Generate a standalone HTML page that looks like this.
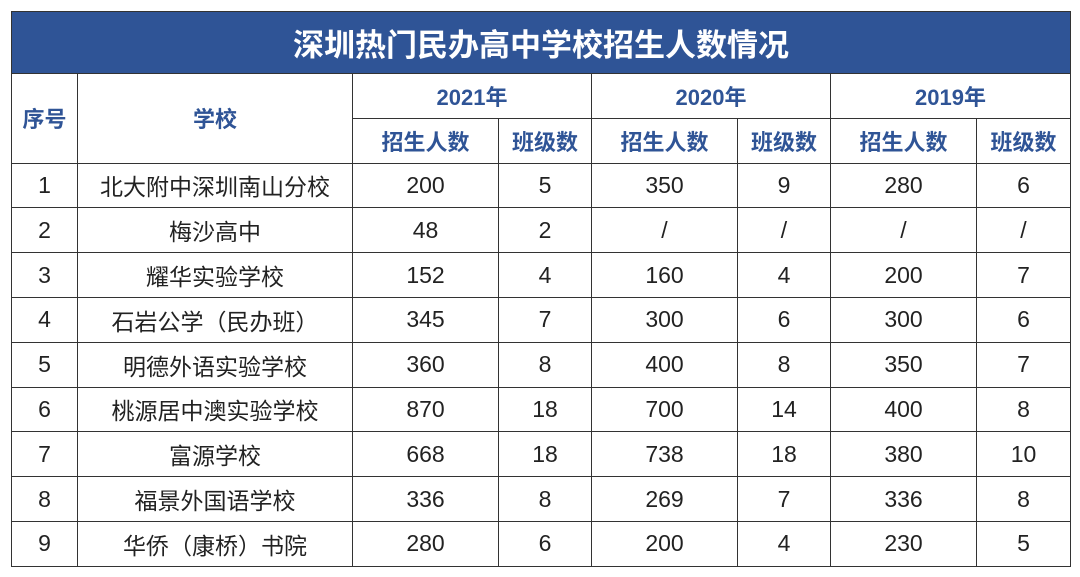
<!DOCTYPE html>
<html><head><meta charset="utf-8"><style>
body{margin:0;background:#fff;width:1080px;height:577px;overflow:hidden}
table{position:absolute;left:11px;top:11px;border-collapse:collapse;table-layout:fixed;font-family:"Liberation Sans","Noto Sans CJK SC",sans-serif}
td{border:1.5px solid #333;text-align:center;padding:0;font-size:23px;color:#222;height:43.8px}
.t{background:#2F5496;color:#fff;font-weight:bold;font-size:31px;height:61px}
.h{color:#2F5496;font-weight:bold;font-size:22px}
</style></head><body>
<table>
<colgroup><col style="width:66px"><col style="width:275px"><col style="width:146px"><col style="width:93px"><col style="width:146px"><col style="width:93px"><col style="width:146px"><col style="width:94px"></colgroup>
<tr><td class="t" colspan="8">深圳热门民办高中学校招生人数情况</td></tr>
<tr><td class="h" rowspan="2">序号</td><td class="h" rowspan="2">学校</td><td class="h" colspan="2">2021年</td><td class="h" colspan="2">2020年</td><td class="h" colspan="2">2019年</td></tr>
<tr><td class="h">招生人数</td><td class="h">班级数</td><td class="h">招生人数</td><td class="h">班级数</td><td class="h">招生人数</td><td class="h">班级数</td></tr>
<tr><td>1</td><td>北大附中深圳南山分校</td><td>200</td><td>5</td><td>350</td><td>9</td><td>280</td><td>6</td></tr>
<tr><td>2</td><td>梅沙高中</td><td>48</td><td>2</td><td>/</td><td>/</td><td>/</td><td>/</td></tr>
<tr><td>3</td><td>耀华实验学校</td><td>152</td><td>4</td><td>160</td><td>4</td><td>200</td><td>7</td></tr>
<tr><td>4</td><td>石岩公学（民办班）</td><td>345</td><td>7</td><td>300</td><td>6</td><td>300</td><td>6</td></tr>
<tr><td>5</td><td>明德外语实验学校</td><td>360</td><td>8</td><td>400</td><td>8</td><td>350</td><td>7</td></tr>
<tr><td>6</td><td>桃源居中澳实验学校</td><td>870</td><td>18</td><td>700</td><td>14</td><td>400</td><td>8</td></tr>
<tr><td>7</td><td>富源学校</td><td>668</td><td>18</td><td>738</td><td>18</td><td>380</td><td>10</td></tr>
<tr><td>8</td><td>福景外国语学校</td><td>336</td><td>8</td><td>269</td><td>7</td><td>336</td><td>8</td></tr>
<tr><td>9</td><td>华侨（康桥）书院</td><td>280</td><td>6</td><td>200</td><td>4</td><td>230</td><td>5</td></tr>
</table>
</body></html>
